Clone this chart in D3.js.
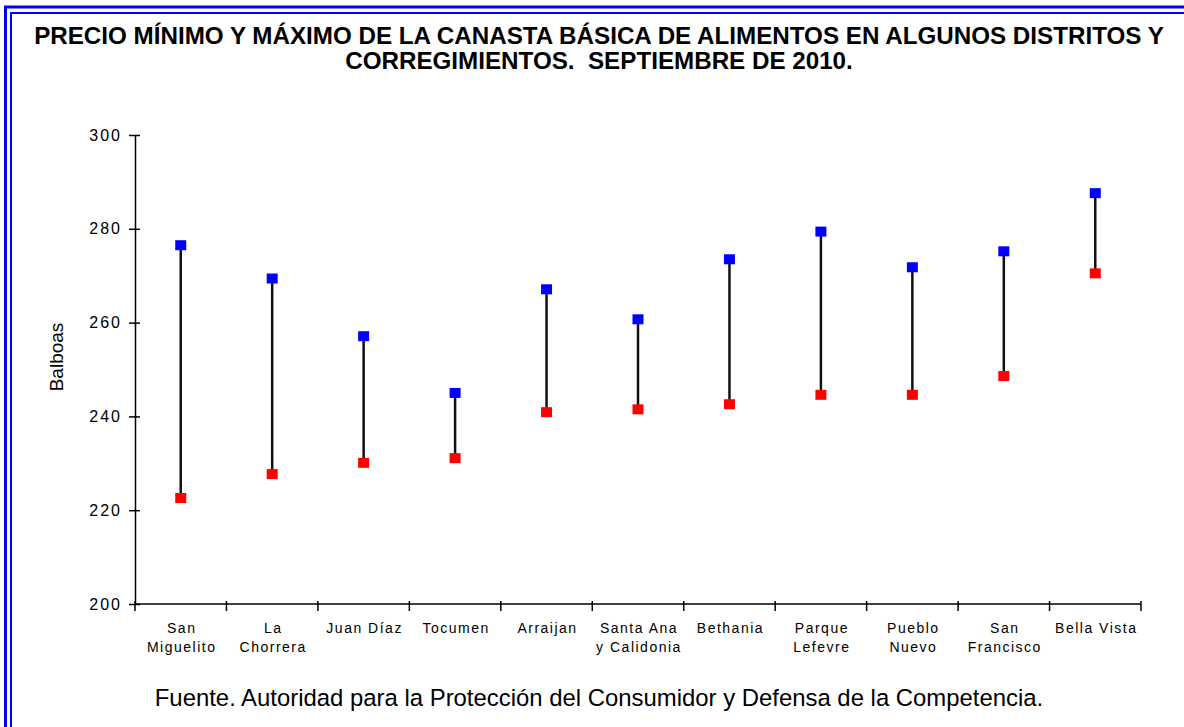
<!DOCTYPE html>
<html>
<head>
<meta charset="utf-8">
<script src="https://cdn.jsdelivr.net/npm/d3@7"></script>
<style>
  body { margin: 0; background: #fff; }
  svg { display: block; font-family: Arial, "Liberation Sans", sans-serif; }
</style>
</head>
<body>
<svg id="chart" width="1184" height="727"></svg>
<script>
var distritos = [
  ['San', 'Miguelito'], ['La', 'Chorrera'], ['Juan Díaz'], ['Tocumen'], ['Arraijan'],
  ['Santa Ana', 'y Calidonia'], ['Bethania'], ['Parque', 'Lefevre'], ['Pueblo', 'Nuevo'],
  ['San', 'Francisco'], ['Bella Vista']
]
var precioMax = [276.5, 269.4, 257.1, 245.0, 267.1, 260.7, 273.5, 279.4, 271.8, 275.2, 287.6]
var precioMin = [222.6, 227.7, 230.1, 231.1, 240.9, 241.5, 242.6, 244.6, 244.6, 248.6, 270.5]
var yTicks = [200, 220, 240, 260, 280, 300]

var titulo = ['PRECIO MÍNIMO Y MÁXIMO DE LA CANASTA BÁSICA DE ALIMENTOS EN ALGUNOS DISTRITOS Y',
  'CORREGIMIENTOS.  SEPTIEMBRE DE 2010.']
var fuente = 'Fuente. Autoridad para la Protección del Consumidor y Defensa de la Competencia.'

var svg = d3.select('#chart')

// double blue frame (cut off at right and bottom)
svg.append('rect').attr('x', 5.5).attr('y', 7).attr('width', 1200).attr('height', 740)
    .attr('fill', 'none').attr('stroke', '#0000ff').attr('stroke-width', 3)
svg.append('rect').attr('x', 11).attr('y', 13).attr('width', 1200).attr('height', 740)
    .attr('fill', 'none').attr('stroke', '#0000ff').attr('stroke-width', 2)

svg.append('text')
    .attr('text-anchor', 'middle')
    .attr('font-weight', 'bold')
    .attr('font-size', 24.2)
    .selectAll('tspan')
    .data(titulo)
  .enter().append('tspan')
    .attr('x', 599)
    .attr('y', (d, i) => 44 + i * 25)
    .style('white-space', 'pre')
    .text(d => d)

var keys = distritos.map((d, i) => i)

var x = d3.scaleBand().domain(keys).range([135, 1141]).padding(0)
var y = d3.scaleLinear().domain([200, 300]).range([604, 135])

// y axis
var yAxis = d3.axisLeft(y).tickValues(yTicks).tickSizeInner(0).tickSizeOuter(0).tickPadding(15)
var gy = svg.append('g').attr('transform', 'translate(135,0)').call(yAxis)
gy.select('.domain').attr('stroke', '#000').attr('stroke-width', 1.5)
gy.selectAll('.tick text').attr('font-size', 16).attr('fill', '#000')
    .attr('font-family', 'Arial, "Liberation Sans", sans-serif')
    .style('letter-spacing', '2px').attr('dx', 2)
gy.selectAll('.tick').append('line')
    .attr('x1', -6).attr('x2', 5).attr('stroke', '#000').attr('stroke-width', 1.5)

svg.append('text')
    .attr('transform', 'translate(63,357) rotate(-90)')
    .attr('text-anchor', 'middle')
    .attr('font-size', 19)
    .text('Balboas')

// x axis
var gx = svg.append('g').attr('transform', 'translate(0,604)')
gx.append('line').attr('x1', 135).attr('x2', 1141).attr('stroke', '#000').attr('stroke-width', 1.5)
var edges = keys.map(k => x(k)).concat([x(keys[keys.length - 1]) + x.bandwidth()])
gx.selectAll('.xt')
    .data(edges)
  .enter().append('line')
    .attr('class', 'xt')
    .attr('x1', d => d).attr('x2', d => d)
    .attr('y1', -3).attr('y2', 7)
    .attr('stroke', '#000').attr('stroke-width', 1.5)

gx.selectAll('.xl')
    .data(distritos)
  .enter().append('text')
    .attr('class', 'xl')
    .attr('text-anchor', 'middle')
    .attr('font-size', 14)
    .style('letter-spacing', '1.5px')
    .selectAll('tspan')
    .data((d, i) => d.map(s => ({ s: s, i: i })))
  .enter().append('tspan')
    .attr('x', d => x(d.i) + x.bandwidth() / 2 + 1)
    .attr('y', (d, j) => 29 + j * 19)
    .text(d => d.s)

// min-max lines and markers
var cx = i => x(i) + x.bandwidth() / 2

svg.selectAll('.rango')
    .data(keys)
  .enter().append('line')
    .attr('class', 'rango')
    .attr('x1', cx).attr('x2', cx)
    .attr('y1', i => y(precioMin[i])).attr('y2', i => y(precioMax[i]))
    .attr('stroke', '#111').attr('stroke-width', 2.5)

svg.selectAll('.max')
    .data(precioMax)
  .enter().append('rect')
    .attr('class', 'max')
    .attr('x', (d, i) => cx(i) - 5.5).attr('y', d => y(d) - 5)
    .attr('width', 11).attr('height', 10)
    .attr('fill', '#0000ff')

svg.selectAll('.min')
    .data(precioMin)
  .enter().append('rect')
    .attr('class', 'min')
    .attr('x', (d, i) => cx(i) - 5.5).attr('y', d => y(d) - 5)
    .attr('width', 11).attr('height', 10)
    .attr('fill', '#ff0000')

svg.append('text')
    .attr('x', 599).attr('y', 706)
    .attr('text-anchor', 'middle')
    .attr('font-size', 23.9)
    .text(fuente)
</script>
</body>
</html>
